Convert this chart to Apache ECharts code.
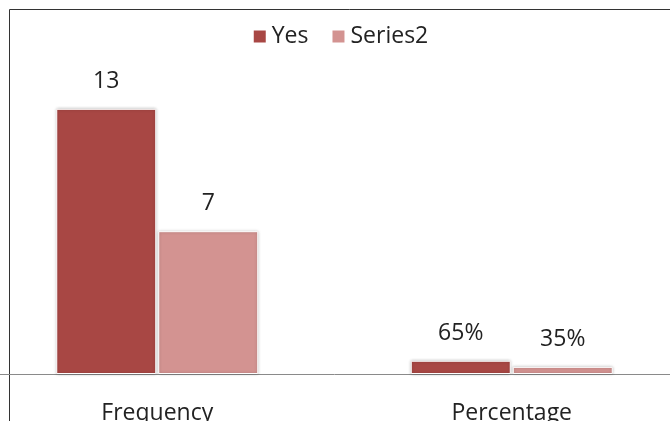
<!DOCTYPE html>
<html>
<head>
<meta charset="utf-8">
<script src="https://cdn.jsdelivr.net/npm/echarts@6/dist/echarts.min.js"></script>
<style>
  html, body { margin: 0; padding: 0; background: #fff; overflow: hidden; width: 670px; height: 421px; }
  /* the chart is wider than the window: it is cropped at the left and right */
  #chart { position: absolute; left: -20px; top: 0; width: 709px; height: 421px; }
</style>
</head>
<body>
<div id="chart"></div>
<script>
// data
const categories = ['Frequency', 'Percentage'];
const yesValues = [13, 0.65];
const series2Values = [7, 0.35];

const fontFamily = '"Open Sans", sans-serif';

// Frequency -> plain number, Percentage -> percent
const labelText = (p) =>
  p.dataIndex === 1 ? Math.round(p.value * 100) + '%' : String(p.value);

const chart = echarts.init(document.getElementById('chart'));

const barLabel = {
  show: true,
  position: 'top',
  distance: 16,
  color: '#222',
  fontSize: 23,
  fontFamily,
  formatter: labelText,
};

chart.setOption({
  backgroundColor: '#fff',
  animation: false,
  grid: { left: 0, right: 0, top: 68, bottom: 47, outerBoundsMode: 'none', containLabel: false },
  legend: {
    top: 20,
    left: 360,
    itemWidth: 14,
    itemHeight: 14,
    itemGap: 22,
    icon: 'rect',
    textStyle: { color: '#222', fontSize: 23, fontFamily },
    data: ['Yes', 'Series2'],
  },
  xAxis: {
    type: 'category',
    data: categories,
    axisLine: { lineStyle: { color: '#8a8a8a', width: 1 } },
    axisTick: { show: false },
    axisLabel: { color: '#222', fontSize: 23, fontFamily, margin: 28 },
  },
  yAxis: {
    type: 'value',
    min: 0,
    max: 15,
    show: false,
    splitLine: { show: false },
  },
  series: [
    {
      name: 'Yes',
      type: 'bar',
      data: yesValues,
      barWidth: 100,
      barGap: '2%',
      itemStyle: {
        color: '#A84744',
        borderColor: '#fff',
        borderWidth: 1,
        shadowColor: 'rgba(0,0,0,0.25)',
        shadowBlur: 3,
      },
      label: barLabel,
    },
    {
      name: 'Series2',
      type: 'bar',
      data: series2Values,
      barWidth: 100,
      itemStyle: {
        color: '#D39391',
        borderColor: '#fff',
        borderWidth: 1,
        shadowColor: 'rgba(0,0,0,0.25)',
        shadowBlur: 3,
      },
      label: barLabel,
    },
  ],
  // chart frame, cut off on the right and bottom
  graphic: [
    {
      type: 'rect',
      shape: { x: 29.5, y: 9.5, width: 720, height: 500 },
      style: { fill: null, stroke: '#333', lineWidth: 1 },
      silent: true,
    },
  ],
});

// centre the legend on the window's middle
const legendView = chart.getViewOfComponentModel(chart.getModel().getComponent('legend'));
const box = legendView && legendView.group.getBoundingRect();
if (box) {
  chart.setOption({ legend: { left: 360 - box.width / 2 } });
}
</script>
</body>
</html>
